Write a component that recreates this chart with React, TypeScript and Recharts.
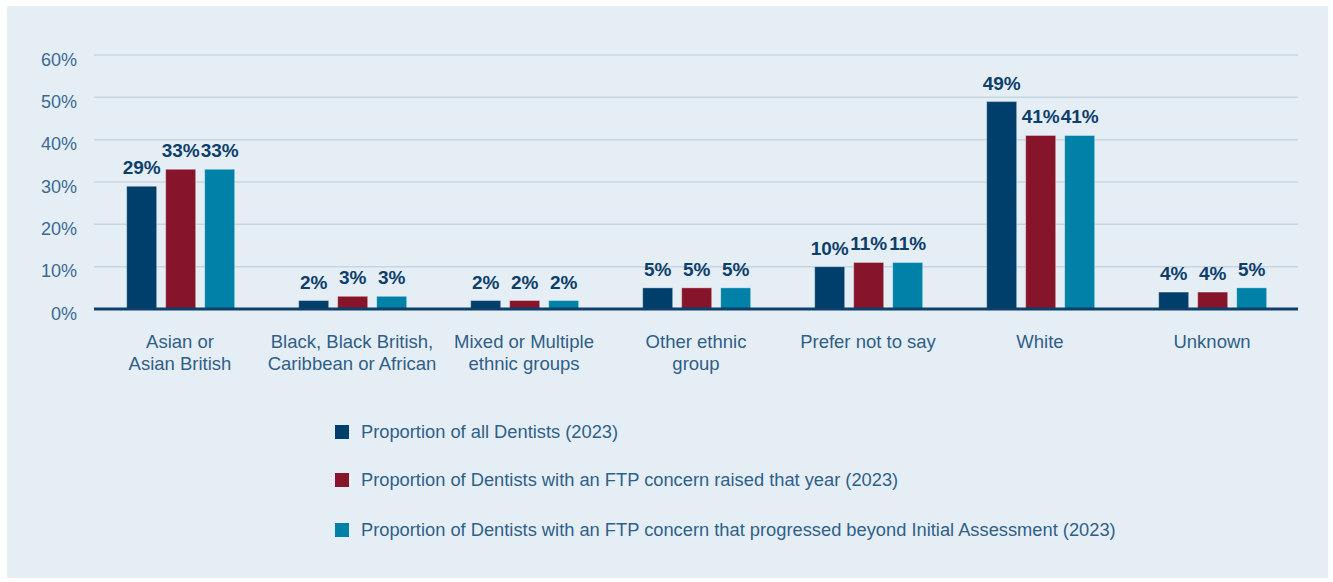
import React from "react";
import { BarChart, Bar, XAxis, YAxis, CartesianGrid, LabelList } from "recharts";

const categories = [
  "Asian or\nAsian British",
  "Black, Black British,\nCaribbean or African",
  "Mixed or Multiple\nethnic groups",
  "Other ethnic\ngroup",
  "Prefer not to say",
  "White",
  "Unknown",
];
const allDentists = [29, 2, 2, 5, 10, 49, 4];
const ftpRaised = [33, 3, 2, 5, 11, 41, 4];
const ftpProgressed = [33, 3, 2, 5, 11, 41, 5];
const yTicks = [0, 10, 20, 30, 40, 50, 60];

const series = [
  { key: "all", name: "Proportion of all Dentists (2023)", color: "#003f6b" },
  { key: "raised", name: "Proportion of Dentists with an FTP concern raised that year (2023)", color: "#86152b" },
  { key: "progressed", name: "Proportion of Dentists with an FTP concern that progressed beyond Initial Assessment (2023)", color: "#0081a7" },
];

const data = categories.map((c, i) => ({
  category: c,
  all: allDentists[i],
  raised: ftpRaised[i],
  progressed: ftpProgressed[i],
}));

const FONT = "'Liberation Sans', Arial, Helvetica, sans-serif";

const XTick = (props: any) => {
  const { x, y, payload } = props;
  const lines = String(payload.value).split("\n");
  return (
    <g transform={`translate(${x},${y})`}>
      {lines.map((l, i) => (
        <text key={i} x={0} y={0} dy={31 + i * 22} textAnchor="middle" fill="#2f5f88" fontSize={18.5} fontFamily={FONT}>
          {l}
        </text>
      ))}
    </g>
  );
};

const YTick = (props: any) => {
  const { x, y, payload } = props;
  return (
    <text x={x} y={y} dy={10.5} textAnchor="end" fill="#3a6a92" fontSize={18} fontFamily={FONT}>
      {`${payload.value}%`}
    </text>
  );
};

const LegendBlock = () => (
  <div style={{ position: "absolute", left: 335, top: 421, fontFamily: FONT }}>
    {series.map((s, i) => (
      <div key={s.key} style={{ display: "flex", alignItems: "center", height: 22, marginBottom: i === 0 ? 26 : 28 }}>
        <div style={{ width: 14, height: 14, background: s.color, marginRight: 12 }} />
        <span style={{ fontSize: 18.3, color: "#2e6189", whiteSpace: "nowrap" }}>{s.name}</span>
      </div>
    ))}
  </div>
);

export default function App() {
  return (
    <div style={{ position: "absolute", left: 0, top: 0, width: 1333, height: 582, background: "#ffffff" }}>
      <div style={{ position: "absolute", left: 7, top: 6, width: 1321, height: 572, background: "#e6eef5" }} />
      <div style={{ position: "absolute", left: 0, top: 0 }}>
        <BarChart
          width={1333}
          height={582}
          data={data}
          margin={{ top: 55, right: 35, bottom: 193, left: 0 }}
          barGap={9}
          barCategoryGap="19%"
        >
          <CartesianGrid vertical={false} stroke="#c6d6e1" strokeWidth={1.5} />
          <XAxis
            dataKey="category"
            tick={<XTick />}
            tickLine={false}
            axisLine={{ stroke: "#0d3f6b", strokeWidth: 3 }}
            interval={0}
            height={80}
          />
          <YAxis
            width={94}
            domain={[0, 60]}
            ticks={yTicks}
            tick={<YTick />}
            tickLine={false}
            axisLine={false}
            tickSize={0}
            tickMargin={17}
          />
          {series.map((s) => (
            <Bar key={s.key} dataKey={s.key} name={s.name} fill={s.color} stroke="rgba(255,255,255,0.35)" strokeWidth={1} isAnimationActive={false}>
              <LabelList
                dataKey={s.key}
                position="top"
                offset={12}
                formatter={(v: any) => `${v}%`}
                fill="#0d3f6b"
                fontSize={19}
                fontWeight="bold"
                fontFamily={FONT}
              />
            </Bar>
          ))}
        </BarChart>
      </div>
      <LegendBlock />
    </div>
  );
}
